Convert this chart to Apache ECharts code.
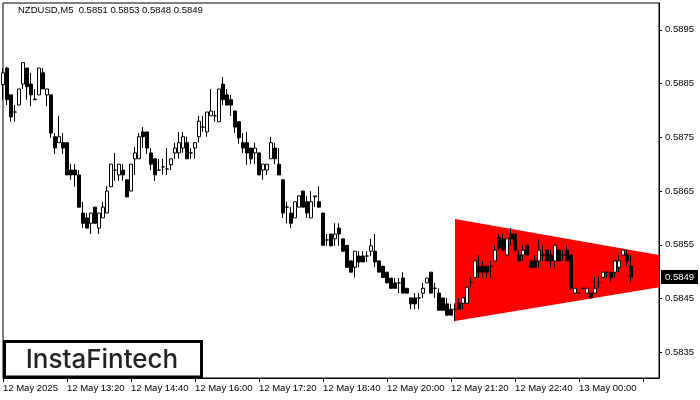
<!DOCTYPE html>
<html>
<head>
<meta charset="utf-8">
<script src="https://cdn.jsdelivr.net/npm/echarts@6/dist/echarts.min.js"></script>
<style>html,body{margin:0;padding:0;background:#fff;}#c{width:700px;height:400px;}</style>
</head>
<body>
<div id="c"></div>
<script>
// ---- data ----
const symbol = 'NZDUSD,M5';
const opens = [0.58848,0.58879,0.58829,0.58797,0.58810,0.58849,0.58879,0.58849,0.58821,0.58829,
0.58870,0.58829,0.58829,0.58751,0.58740,0.58740,0.58740,0.58689,0.58689,0.58680,
0.58609,0.58600,0.58590,0.58620,0.58581,0.58600,0.58609,0.58658,0.58689,0.58680,
0.58689,0.58671,0.58650,0.58710,0.58710,0.58760,0.58760,0.58721,0.58710,0.58689,
0.58695,0.58691,0.58699,0.58721,0.58721,0.58730,0.58740,0.58721,0.58730,0.58751,
0.58769,0.58760,0.58790,0.58790,0.58779,0.58849,0.58829,0.58820,0.58799,0.58779,
0.58740,0.58740,0.58730,0.58721,0.58721,0.58689,0.58689,0.58710,0.58730,0.58700,
0.58671,0.58620,0.58609,0.58600,0.58620,0.58650,0.58630,0.58600,0.58639,0.58630,
0.58609,0.58559,0.58570,0.58561,0.58581,0.58561,0.58549,0.58520,0.58508,0.58529,
0.58529,0.58529,0.58538,0.58538,0.58520,0.58510,0.58499,0.58488,0.58479,0.58479,
0.58488,0.58469,0.58451,0.58451,0.58451,0.58460,0.58479,0.58499,0.58469,0.58460,
0.58451,0.58440,0.58430,0.58430,0.58441,0.58441,0.58441,0.58480,0.58489,0.58510,
0.58510,0.58510,0.58510,0.58520,0.58564,0.58561,0.58531,0.58570,0.58570,0.58531,
0.58531,0.58549,0.58520,0.58520,0.58520,0.58531,0.58540,0.58531,0.58520,0.58540,
0.58531,0.58540,0.58531,0.58460,0.58460,0.58469,0.58460,0.58460,0.58460,0.58480,
0.58489,0.58499,0.58499,0.58499,0.58508,0.58531,0.58531,0.58510];
const highs = [0.58879,0.58881,0.58829,0.58810,0.58840,0.58890,0.58879,0.58870,0.58840,0.58879,
0.58879,0.58840,0.58829,0.58758,0.58790,0.58758,0.58740,0.58700,0.58700,0.58689,
0.58630,0.58609,0.58609,0.58620,0.58609,0.58630,0.58659,0.58700,0.58721,0.58700,
0.58700,0.58671,0.58700,0.58732,0.58758,0.58769,0.58760,0.58730,0.58710,0.58710,
0.58710,0.58730,0.58710,0.58740,0.58760,0.58760,0.58751,0.58730,0.58740,0.58790,
0.58790,0.58797,0.58840,0.58799,0.58840,0.58862,0.58840,0.58829,0.58799,0.58779,
0.58758,0.58760,0.58730,0.58740,0.58721,0.58700,0.58700,0.58751,0.58740,0.58730,
0.58671,0.58630,0.58620,0.58630,0.58641,0.58650,0.58641,0.58650,0.58641,0.58659,
0.58609,0.58570,0.58570,0.58590,0.58590,0.58561,0.58549,0.58520,0.58538,0.58538,
0.58538,0.58538,0.58561,0.58570,0.58520,0.58510,0.58499,0.58488,0.58488,0.58488,
0.58499,0.58469,0.58451,0.58460,0.58460,0.58479,0.58488,0.58499,0.58479,0.58469,
0.58451,0.58451,0.58440,0.58441,0.58451,0.58451,0.58471,0.58489,0.58520,0.58531,
0.58520,0.58510,0.58520,0.58549,0.58570,0.58570,0.58561,0.58581,0.58570,0.58540,
0.58549,0.58549,0.58520,0.58531,0.58561,0.58549,0.58540,0.58540,0.58549,0.58540,
0.58540,0.58549,0.58531,0.58469,0.58460,0.58469,0.58469,0.58460,0.58489,0.58489,
0.58499,0.58499,0.58499,0.58520,0.58531,0.58540,0.58540,0.58530];
const lows = [0.58820,0.58810,0.58779,0.58779,0.58810,0.58840,0.58820,0.58808,0.58820,0.58829,
0.58840,0.58808,0.58749,0.58719,0.58740,0.58719,0.58680,0.58671,0.58658,0.58620,
0.58581,0.58581,0.58570,0.58590,0.58570,0.58600,0.58609,0.58658,0.58669,0.58669,
0.58669,0.58639,0.58650,0.58680,0.58710,0.58730,0.58719,0.58689,0.58669,0.58687,
0.58680,0.58680,0.58689,0.58710,0.58710,0.58721,0.58710,0.58710,0.58710,0.58740,
0.58760,0.58751,0.58790,0.58779,0.58779,0.58810,0.58810,0.58790,0.58758,0.58738,
0.58721,0.58699,0.58700,0.58700,0.58680,0.58671,0.58680,0.58710,0.58700,0.58680,
0.58600,0.58590,0.58581,0.58600,0.58620,0.58620,0.58600,0.58600,0.58620,0.58620,
0.58549,0.58548,0.58548,0.58548,0.58548,0.58538,0.58508,0.58499,0.58489,0.58508,
0.58518,0.58518,0.58529,0.58508,0.58499,0.58489,0.58479,0.58469,0.58469,0.58460,
0.58460,0.58460,0.58430,0.58430,0.58430,0.58451,0.58479,0.58460,0.58451,0.58428,
0.58428,0.58419,0.58419,0.58408,0.58430,0.58430,0.58441,0.58471,0.58489,0.58489,
0.58489,0.58489,0.58489,0.58520,0.58540,0.58540,0.58531,0.58549,0.58540,0.58520,
0.58520,0.58531,0.58508,0.58508,0.58508,0.58520,0.58520,0.58508,0.58508,0.58520,
0.58520,0.58520,0.58469,0.58460,0.58460,0.58469,0.58460,0.58451,0.58460,0.58469,
0.58489,0.58489,0.58480,0.58489,0.58499,0.58531,0.58510,0.58480];
const closes = [0.58870,0.58820,0.58788,0.58797,0.58840,0.58889,0.58844,0.58829,0.58820,0.58879,
0.58840,0.58840,0.58758,0.58730,0.58751,0.58730,0.58680,0.58680,0.58680,0.58620,
0.58590,0.58581,0.58609,0.58590,0.58609,0.58620,0.58650,0.58700,0.58689,0.58700,
0.58680,0.58639,0.58700,0.58721,0.58751,0.58751,0.58730,0.58700,0.58680,0.58689,
0.58695,0.58691,0.58710,0.58730,0.58740,0.58751,0.58710,0.58721,0.58740,0.58780,
0.58769,0.58797,0.58799,0.58790,0.58840,0.58820,0.58810,0.58810,0.58769,0.58749,
0.58730,0.58721,0.58710,0.58730,0.58680,0.58700,0.58700,0.58740,0.58710,0.58680,
0.58609,0.58620,0.58590,0.58630,0.58641,0.58620,0.58609,0.58630,0.58641,0.58620,
0.58549,0.58559,0.58548,0.58570,0.58570,0.58538,0.58508,0.58499,0.58538,0.58518,
0.58518,0.58529,0.58548,0.58518,0.58499,0.58489,0.58479,0.58469,0.58469,0.58479,
0.58460,0.58460,0.58440,0.58440,0.58451,0.58469,0.58488,0.58460,0.58469,0.58428,
0.58428,0.58419,0.58419,0.58430,0.58430,0.58451,0.58471,0.58480,0.58520,0.58499,
0.58499,0.58499,0.58510,0.58540,0.58544,0.58540,0.58561,0.58561,0.58540,0.58520,
0.58540,0.58531,0.58508,0.58508,0.58540,0.58531,0.58520,0.58520,0.58549,0.58520,
0.58531,0.58520,0.58469,0.58469,0.58460,0.58469,0.58469,0.58451,0.58469,0.58480,
0.58499,0.58499,0.58489,0.58520,0.58520,0.58540,0.58520,0.58490];
const tickLabels = ['12 May 2025','12 May 13:20','12 May 14:40','12 May 16:00','12 May 17:20',
  '12 May 18:40','12 May 20:00','12 May 21:20','12 May 22:40','13 May 00:00'];
const priceTicks = [0.5835,0.5845,0.5855,0.5865,0.5875,0.5885,0.5895];
const currentPrice = 0.5849;
// symmetrical triangle pattern: bar index / price of its corners
const triX = [113, 164, 164, 113];
const triY = [0.58598, 0.58531, 0.58471, 0.58408];
const slotCount = 165; // 5-minute slots shown on the axis

// ---- build ----
const categories = [];
for (let i = 0; i < slotCount; i++) {
  const m = 12 * 60 + i * 5;
  const h = Math.floor(m / 60) % 24, mm = m % 60;
  categories.push((h < 10 ? '0' : '') + h + ':' + (mm < 10 ? '0' : '') + mm);
}
const candles = categories.map((c, i) => i < opens.length ? [opens[i], closes[i], lows[i], highs[i]] : '-');
const last = opens.length - 1;
const title = symbol + '  ' + [opens[last], highs[last], lows[last], closes[last]].map(v => v.toFixed(4)).join(' ');
const FONT = 'Liberation Sans';

const chart = echarts.init(document.getElementById('c'), null, {renderer: 'canvas'});
chart.setOption({
  animation: false,
  backgroundColor: '#fff',
  grid: {left: 3, right: 41, top: 3, bottom: 22, show: true, borderColor: '#000', borderWidth: 1, backgroundColor: 'transparent'},
  xAxis: {
    type: 'category', data: categories, boundaryGap: false,
    axisLine: {show: true, lineStyle: {color: '#000', width: 1}},
    axisTick: {show: true, length: 4, interval: (i) => i % 16 === 0, lineStyle: {color: '#000'}},
    axisLabel: {
      show: true, interval: (i) => i % 16 === 0, align: 'left', margin: 5,
      color: '#000', fontFamily: FONT, fontSize: 9.5,
      formatter: (v, i) => tickLabels[i / 16] || ''
    },
    splitLine: {show: false}
  },
  yAxis: {
    type: 'value', position: 'right', min: 0.58302, max: 0.59000, scale: true,
    axisLine: {show: true, lineStyle: {color: '#000', width: 1}},
    axisTick: {show: true, length: 3, customValues: priceTicks, lineStyle: {color: '#000'}},
    axisLabel: {show: true, customValues: priceTicks, margin: 6, color: '#000', fontFamily: FONT, fontSize: 9.5,
      formatter: v => v.toFixed(4)},
    splitLine: {show: false}
  },
  graphic: [
    {type: 'text', left: 18, top: 5, z: 100, style: {text: title, fill: '#000', font: '9.5px "Liberation Sans"'}},
    {type: 'rect', z: 100, shape: {x: 4.5, y: 341.5, width: 197, height: 35.5}, style: {fill: '#fff', stroke: '#000', lineWidth: 3}},
    {type: 'text', z: 101, x: 102, y: 360, style: {text: 'InstaFintech', fill: '#222', font: '500 26px Inter', align: 'center', verticalAlign: 'middle'}}
  ],
  series: [
    {
      type: 'custom', z: 1, silent: true, clip: true,
      data: triX.map((x, k) => [x, triY[k]]),
      encode: {x: 0, y: 1},
      renderItem: function (params, api) {
        if (params.dataIndex !== 0) return null;
        const pts = triX.map((x, k) => api.coord([x, triY[k]]));
        return {type: 'polygon', shape: {points: pts}, style: {fill: '#ff0000', stroke: null}};
      }
    },
    {
      type: 'candlestick', z: 3, data: candles, barWidth: 3, silent: true,
      itemStyle: {color: '#fff', color0: '#000', borderColor: '#000', borderColor0: '#000', borderWidth: 1},
      markLine: {
        silent: true, symbol: ['none', 'none'], animation: false,
        lineStyle: {color: '#000', width: 1, type: 'solid'},
        label: {show: false},
        data: [{yAxis: currentPrice}]
      }
    }
  ]
});
// current-price tag on the right axis, placed through the y scale
const yPix = chart.convertToPixel({yAxisIndex: 0}, currentPrice);
chart.setOption({
  graphic: [
    {type: 'text', left: 18, top: 5, z: 100, style: {text: title, fill: '#000', font: '9.5px "Liberation Sans"'}},
    {type: 'rect', z: 100, shape: {x: 4.5, y: 341.5, width: 197, height: 35.5}, style: {fill: '#fff', stroke: '#000', lineWidth: 3}},
    {type: 'text', z: 101, x: 102, y: 360, style: {text: 'InstaFintech', fill: '#222', font: '500 26px Inter', align: 'center', verticalAlign: 'middle'}},
    {type: 'rect', z: 100, shape: {x: 661, y: Math.round(yPix) - 7, width: 37, height: 14}, style: {fill: '#000'}},
    {type: 'text', z: 101, x: 665, y: Math.round(yPix), style: {text: currentPrice.toFixed(4), fill: '#fff', font: '9.5px "Liberation Sans"', verticalAlign: 'middle'}}
  ]
});
</script>
</body>
</html>
